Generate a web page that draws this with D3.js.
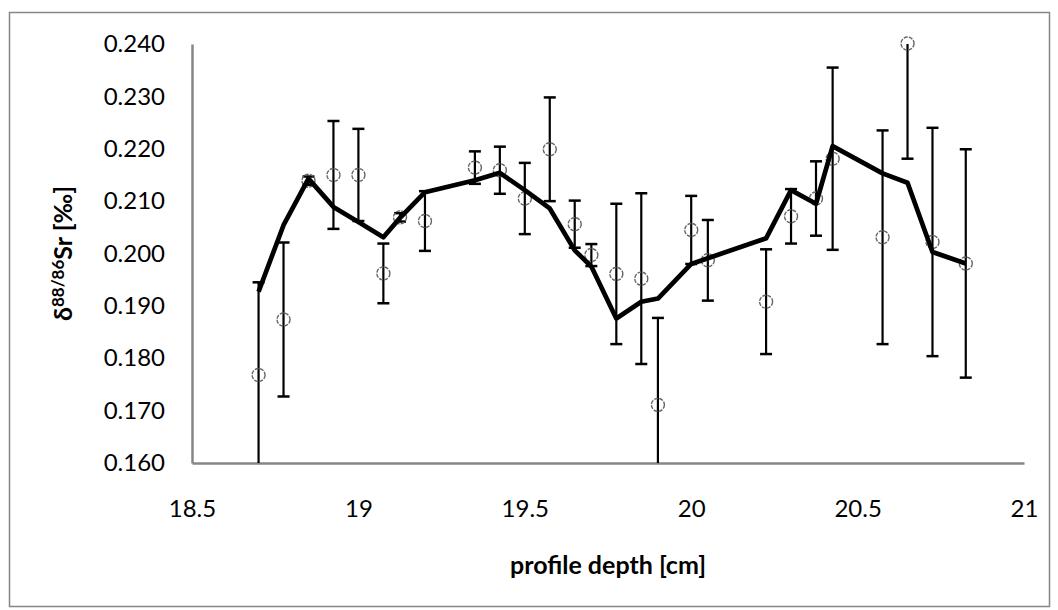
<!DOCTYPE html>
<html>
<head>
<meta charset="utf-8">
<script src="https://cdn.jsdelivr.net/npm/d3@7"></script>
<style>
  body { margin: 0; background: #fff; }
  text { font-family: Lato, "Open Sans", sans-serif; fill: #000; }
</style>
</head>
<body>
<script>
// measured samples (circles + error bars)
var depth = [18.7, 18.775, 18.85, 18.925, 19.0, 19.075, 19.125, 19.2, 19.35, 19.425, 19.5, 19.575,
             19.65, 19.7, 19.775, 19.85, 19.9, 20.0, 20.05, 20.225, 20.3, 20.375, 20.425, 20.575,
             20.65, 20.725, 20.825];
var delta = [0.1768, 0.1874, 0.2139, 0.2150, 0.2150, 0.1962, 0.2069, 0.2062, 0.2164, 0.2159, 0.2105, 0.2199,
             0.2056, 0.1997, 0.1961, 0.1952, 0.1711, 0.2045, 0.1987, 0.1908, 0.2071, 0.2105, 0.2181, 0.2031,
             0.2401, 0.2022, 0.1981];
var err   = [0.0177, 0.0147, 0.0008, 0.0103, 0.0088, 0.0057, 0.0008, 0.0057, 0.0031, 0.0045, 0.0068, 0.0099,
             0.0045, 0.0021, 0.0134, 0.0163, 0.0166, 0.0065, 0.0077, 0.0100, 0.0052, 0.0071, 0.0174, 0.0204,
             0.0220, 0.0218, 0.0218];
// smoothed curve, same depths
var smooth = [0.1927, 0.2054, 0.2143, 0.2089, 0.2060, 0.2031, 0.2068, 0.2117, 0.2140, 0.2154, 0.2121, 0.2086,
              0.2006, 0.1975, 0.1876, 0.1908, 0.1914, 0.1980, 0.1991, 0.2029, 0.2121, 0.2095, 0.2205, 0.2153,
              0.2135, 0.2003, 0.1981];
var xTicks = [18.5, 19, 19.5, 20, 20.5, 21];
var yTicks = [0.16, 0.17, 0.18, 0.19, 0.20, 0.21, 0.22, 0.23, 0.24];

var W = 1058, H = 610;
var margin = {top: 44, right: 34, bottom: 147, left: 192},
    width = W - margin.left - margin.right,
    height = H - margin.top - margin.bottom;

var svg = d3.select("body").append("svg")
  .attr("width", W)
  .attr("height", H);

// outer chart frame
svg.append("rect")
  .attr("x", 9.5).attr("y", 12.5)
  .attr("width", 1040).attr("height", 594)
  .attr("fill", "#fff")
  .attr("stroke", "#868686")
  .attr("stroke-width", 1.5);

var x = d3.scaleLinear().domain([18.5, 21]).range([0, width]);
var y = d3.scaleLinear().domain([0.16, 0.24]).range([height, 0]);

var g = svg.append("g")
  .attr("transform", "translate(" + margin.left + "," + margin.top + ")");

svg.append("defs").append("clipPath").attr("id", "plot")
  .append("rect").attr("x", -10).attr("y", 0).attr("width", width + 20).attr("height", height);

// axes
var xAxis = g.append("g")
  .attr("transform", "translate(0," + height + ")")
  .call(d3.axisBottom(x).tickValues(xTicks).tickSize(0).tickPadding(37).tickFormat(d3.format("")));
var yAxis = g.append("g")
  .call(d3.axisLeft(y).tickValues(yTicks).tickSize(0).tickPadding(27).tickFormat(d3.format(".3f")));

[xAxis, yAxis].forEach(function(a) {
  a.select(".domain").attr("stroke", "#868686").attr("stroke-width", 2.5);
  a.selectAll("text").style("font-size", "24px").attr("fill", "#000");
});

var pts = depth.map(function(d, i) {
  return {x: d, v: delta[i], e: err[i], s: smooth[i]};
});

// error bars (clipped to the plot area)
var bars = g.append("g").attr("class", "errbars")
  .attr("clip-path", "url(#plot)")
  .selectAll("g")
  .data(pts)
  .enter().append("g");

bars.append("line")
  .attr("x1", function(d) { return x(d.x); })
  .attr("x2", function(d) { return x(d.x); })
  .attr("y1", function(d) { return y(d.v - d.e); })
  .attr("y2", function(d) { return y(d.v + d.e); })
  .attr("stroke", "#000").attr("stroke-width", 2.2);

bars.selectAll(".cap")
  .data(function(d) { return [d.v - d.e, d.v + d.e].map(function(v) { return {x: d.x, v: v}; }); })
  .enter().append("line")
  .attr("class", "cap")
  .attr("x1", function(d) { return x(d.x) - 6; })
  .attr("x2", function(d) { return x(d.x) + 6; })
  .attr("y1", function(d) { return y(d.v); })
  .attr("y2", function(d) { return y(d.v); })
  .attr("stroke", "#000").attr("stroke-width", 2.5);

// sample circles
g.append("g").attr("class", "pts")
  .selectAll("circle")
  .data(pts)
  .enter().append("circle")
  .attr("cx", function(d) { return x(d.x); })
  .attr("cy", function(d) { return y(d.v); })
  .attr("r", 6.5)
  .attr("fill", "none")
  .attr("stroke", "#666")
  .attr("stroke-width", 1.4)
  .attr("stroke-dasharray", "4,1.2");

// smoothed line
var line = d3.line()
  .x(function(d) { return x(d.x); })
  .y(function(d) { return y(d.s); });

g.append("path")
  .datum(pts)
  .attr("d", line)
  .attr("fill", "none")
  .attr("stroke", "#000")
  .attr("stroke-width", 4.7)
  .attr("stroke-linejoin", "round");

// axis titles
g.append("text")
  .attr("x", width / 2)
  .attr("y", height + 111)
  .attr("text-anchor", "middle")
  .style("font-size", "25px")
  .style("font-weight", "bold")
  .text("profile depth [cm]");

var yt = g.append("text")
  .attr("transform", "translate(" + (-120) + "," + (height / 2) + ") rotate(-90)")
  .attr("text-anchor", "middle")
  .style("font-size", "25px")
  .style("font-weight", "bold");
yt.append("tspan").text("δ");
yt.append("tspan").attr("dy", -8).style("font-size", "17px").text("88/86");
yt.append("tspan").attr("dy", 8).text("Sr [‰]");
</script>
</body>
</html>
